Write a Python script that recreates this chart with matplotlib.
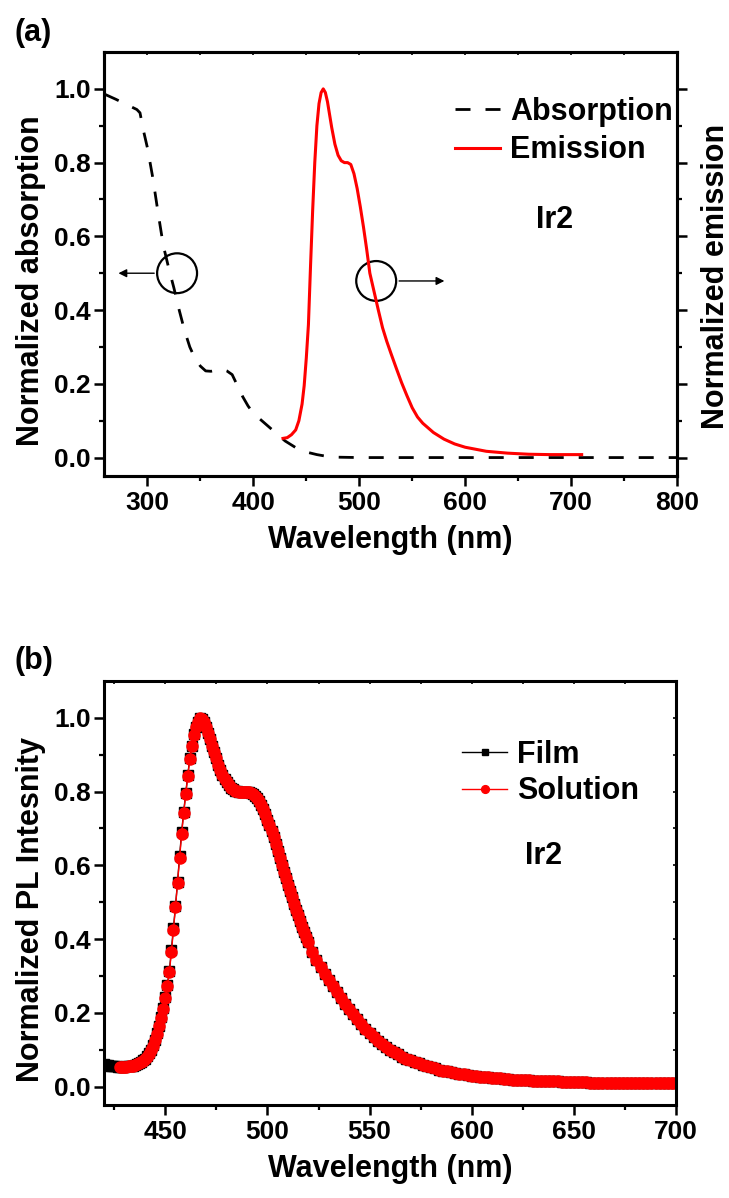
import matplotlib
matplotlib.use('Agg')
import matplotlib.pyplot as plt
from matplotlib.patches import Ellipse
from matplotlib import font_manager

# 字体：优先用窄体粗体
names = {f.name for f in font_manager.fontManager.ttflist}
fam = [n for n in ['Liberation Sans Narrow', 'Liberation Sans', 'DejaVu Sans'] if n in names]
plt.rcParams['font.family'] = fam
plt.rcParams['font.weight'] = 'bold'
plt.rcParams['axes.labelweight'] = 'bold'

# (a) 吸收光谱
abs_wl = [260, 270, 280, 290, 293, 296, 300, 305, 310, 315, 320, 325, 330, 335, 340, 345,
          350, 355, 360, 365, 370, 375, 380, 385, 390, 395, 400, 410, 420, 430, 440, 450,
          460, 470, 480, 500, 550, 600, 650, 700, 750, 800]
abs_val = [0.985, 0.972, 0.958, 0.944, 0.935, 0.89, 0.84, 0.76, 0.665, 0.575, 0.515, 0.46,
           0.40, 0.345, 0.30, 0.268, 0.248, 0.235, 0.234, 0.237, 0.24, 0.235, 0.225, 0.195,
           0.165, 0.14, 0.12, 0.095, 0.07, 0.045, 0.027, 0.015, 0.008, 0.003, 0.001, 0.0,
           0.0, 0.0, 0.0, 0.0, 0.0, 0.0]

# (a) 发射光谱
em_wl = [428, 432, 436, 440, 443, 446, 448, 450, 452, 454, 456, 458, 460, 462, 464, 466,
         468, 470, 472, 474, 477, 480, 483, 486, 489, 492, 495, 498, 501, 504, 507, 510,
         514, 518, 522, 526, 530, 535, 540, 545, 550, 555, 560, 570, 580, 590, 600, 620,
         640, 660, 680, 710]
em_val = [0.052, 0.054, 0.062, 0.075, 0.10, 0.145, 0.195, 0.27, 0.36, 0.52, 0.67, 0.80,
          0.90, 0.96, 0.99, 1.0, 0.99, 0.965, 0.93, 0.895, 0.85, 0.82, 0.805, 0.80, 0.80,
          0.795, 0.77, 0.73, 0.68, 0.625, 0.565, 0.50, 0.45, 0.40, 0.352, 0.315, 0.282,
          0.242, 0.203, 0.168, 0.135, 0.11, 0.093, 0.068, 0.05, 0.037, 0.028, 0.017,
          0.012, 0.009, 0.008, 0.008]

# (b) PL 光谱 (420-520 nm 每 1 nm, 之后每 2 nm)
film_wl = list(range(420, 521)) + list(range(522, 701, 2))
sol_wl = list(range(428, 521)) + list(range(522, 701, 2))

film_head = [0.060, 0.059, 0.058, 0.057, 0.056, 0.055, 0.055, 0.054, 0.054, 0.054,
             0.054, 0.055, 0.055, 0.056, 0.057, 0.059, 0.061, 0.064, 0.067, 0.071,
             0.076, 0.082, 0.090, 0.100, 0.112, 0.127, 0.145, 0.165, 0.188, 0.213,
             0.242, 0.275, 0.313, 0.37, 0.43, 0.49, 0.555, 0.625, 0.69, 0.745,
             0.795, 0.845, 0.89, 0.925, 0.955, 0.975, 0.99, 1.0, 0.997, 0.988,
             0.975, 0.96, 0.943, 0.925, 0.907, 0.89, 0.873, 0.858, 0.845, 0.834,
             0.825, 0.817, 0.811, 0.806, 0.803, 0.801, 0.800, 0.800, 0.800, 0.800,
             0.800, 0.799, 0.797, 0.794, 0.789, 0.782, 0.774, 0.764, 0.752, 0.738,
             0.724, 0.709, 0.693, 0.676, 0.658, 0.640, 0.621, 0.602, 0.583, 0.565,
             0.547, 0.53, 0.513, 0.496, 0.48, 0.464, 0.449, 0.434, 0.419, 0.405, 0.391]
sol_head = [0.053, 0.053, 0.053, 0.054, 0.055, 0.056, 0.057, 0.058, 0.060, 0.063,
            0.066, 0.070, 0.075, 0.081, 0.089, 0.099, 0.111, 0.126, 0.143, 0.163,
            0.186, 0.211, 0.240, 0.272, 0.310, 0.365, 0.425, 0.487, 0.552, 0.620,
            0.685, 0.742, 0.793, 0.842, 0.888, 0.924, 0.954, 0.975, 0.99, 1.0,
            0.997, 0.988, 0.975, 0.96, 0.943, 0.925, 0.907, 0.89, 0.873, 0.858,
            0.845, 0.834, 0.825, 0.817, 0.811, 0.806, 0.803, 0.801, 0.800, 0.800,
            0.800, 0.800, 0.800, 0.799, 0.797, 0.794, 0.789, 0.782, 0.774, 0.764,
            0.752, 0.738, 0.724, 0.709, 0.693, 0.676, 0.658, 0.640, 0.621, 0.602,
            0.583, 0.565, 0.547, 0.53, 0.513, 0.496, 0.48, 0.464, 0.449, 0.434,
            0.419, 0.405, 0.391]
pl_tail = [0.366, 0.343, 0.324, 0.306, 0.289, 0.272, 0.256, 0.240, 0.225, 0.210,
           0.196, 0.182, 0.169, 0.157, 0.145, 0.134, 0.124, 0.115, 0.107, 0.100,
           0.093, 0.087, 0.081, 0.076, 0.071, 0.067, 0.063, 0.059, 0.055, 0.052,
           0.049, 0.046, 0.043, 0.041, 0.039, 0.037, 0.035, 0.033, 0.031, 0.030,
           0.028, 0.027, 0.026, 0.025, 0.024, 0.023, 0.022, 0.021, 0.020, 0.019,
           0.019, 0.018, 0.017, 0.017, 0.016, 0.016, 0.015, 0.015, 0.014, 0.014,
           0.014, 0.013, 0.013, 0.013, 0.012, 0.012, 0.012, 0.012, 0.011, 0.011,
           0.011, 0.011, 0.011, 0.010, 0.010, 0.010, 0.010, 0.010, 0.010, 0.010,
           0.010, 0.010, 0.010, 0.010, 0.010, 0.010, 0.010, 0.010, 0.010, 0.010]
film_pl = film_head + pl_tail
sol_pl = sol_head + pl_tail

yticks = [0.0, 0.2, 0.4, 0.6, 0.8, 1.0]
ytick_labels = ['0.0', '0.2', '0.4', '0.6', '0.8', '1.0']

TICK_FS = 19
LABEL_FS = 22


def style_axes(ax):
    for s in ax.spines.values():
        s.set_linewidth(2.2)
    ax.tick_params(which='major', direction='out', length=7.5, width=1.8, labelsize=TICK_FS)
    ax.tick_params(axis='y', which='major', pad=2)
    ax.tick_params(which='minor', direction='out', length=3.8, width=1.6)
    ax.set_ylim(-0.05, 1.1)
    ax.set_yticks(yticks)
    ax.set_yticklabels(ytick_labels)
    ax.set_yticks([0.1, 0.3, 0.5, 0.7, 0.9], minor=True)


fig = plt.figure(figsize=(7.29, 11.98), dpi=100)

# ---------- (a) ----------
ax1 = fig.add_axes([104 / 729, 1 - 476 / 1198, 573 / 729, 424 / 1198])
ax1.plot(abs_wl, abs_val, color='black', lw=2.0, linestyle=(0, (5.4, 5.4)), label='Absorption')
ax1.set_xlim(259, 800)
ax1.set_xticks([300, 400, 500, 600, 700, 800])
ax1.set_xticks([350, 450, 550, 650, 750], minor=True)
style_axes(ax1)
ax1.set_xlabel('Wavelength (nm)', fontsize=LABEL_FS, labelpad=7)
ax1.set_ylabel('Normalized absorption', fontsize=LABEL_FS, labelpad=6)
ax1.yaxis.label.set_y(0.46)

ax1r = ax1.twinx()
ax1r.plot(em_wl, em_val, color='red', lw=2.2, label='Emission')
style_axes(ax1r)
ax1r.tick_params(labelright=False)
ax1r.set_ylabel('Normalized emission', fontsize=LABEL_FS, labelpad=10)
ax1r.yaxis.label.set_y(0.47)

top1 = ax1.secondary_xaxis('top')
top1.set_xticks([300, 350, 400, 450, 500, 550, 600, 650, 700, 750])
top1.tick_params(direction='in', length=2, width=1.2, labeltop=False)

# 圆圈和箭头
ax1.add_patch(Ellipse((328, 0.5), 37.7, 0.108, fill=False, lw=1.6, color='black'))
ax1.annotate('', xy=(270, 0.5), xytext=(309, 0.5),
             arrowprops=dict(arrowstyle='-|>', color='black', lw=1.0, mutation_scale=12))
ax1.add_patch(Ellipse((516, 0.479), 37.7, 0.108, fill=False, lw=1.6, color='black'))
ax1.annotate('', xy=(583, 0.479), xytext=(535, 0.479),
             arrowprops=dict(arrowstyle='-|>', color='black', lw=1.0, mutation_scale=12))

ax1.text(684, 0.643, 'Ir2', fontsize=22, ha='center', va='center')

h1, l1 = ax1.get_legend_handles_labels()
h2, l2 = ax1r.get_legend_handles_labels()
ax1r.legend(h1 + h2, l1 + l2, loc='upper left', bbox_to_anchor=(0.6126, 0.894), frameon=False,
            fontsize=22, handlelength=1.47, handletextpad=0.33, labelspacing=0.28,
            borderaxespad=0, borderpad=0)

fig.text(14 / 729, 1 - 33 / 1198, '(a)', fontsize=22, va='center', ha='left')

# ---------- (b) ----------
ax2 = fig.add_axes([104 / 729, 1 - 1105 / 1198, 572 / 729, 424 / 1198])
ax2.plot(film_wl, film_pl, color='black', lw=1.0, marker='s', markersize=7.0,
         label='Film')
ax2.plot(sol_wl, sol_pl, color='red', lw=1.0, marker='o', markersize=8.0,
         label='Solution')
ax2.set_xlim(420, 700)
ax2.set_xticks([450, 500, 550, 600, 650, 700])
ax2.set_xticks([425, 475, 525, 575, 625, 675], minor=True)
style_axes(ax2)
ax2.set_xlabel('Wavelength (nm)', fontsize=LABEL_FS, labelpad=7)
ax2.set_ylabel('Normalized PL Intesnity', fontsize=LABEL_FS, labelpad=6)
ax2.yaxis.label.set_y(0.46)

top2 = ax2.secondary_xaxis('top')
top2.set_xticks([425, 450, 475, 500, 525, 550, 575, 600, 625, 650, 675])
top2.tick_params(direction='in', length=2, width=1.2, labeltop=False)
right2 = ax2.secondary_yaxis('right')
right2.set_yticks([0.1, 0.2, 0.3, 0.4, 0.5, 0.6, 0.7, 0.8, 0.9, 1.0])
right2.tick_params(direction='in', length=2, width=1.2, labelright=False)

ax2.text(635, 0.625, 'Ir2', fontsize=22, ha='center', va='center')
ax2.legend(loc='upper left', bbox_to_anchor=(0.626, 0.862), frameon=False, fontsize=22,
           handlelength=1.47, handletextpad=0.33, labelspacing=0.22,
           borderaxespad=0, borderpad=0, markerscale=0.7)

fig.text(14 / 729, 1 - 661 / 1198, '(b)', fontsize=22, va='center', ha='left')

fig.savefig('out.png', dpi=100)
